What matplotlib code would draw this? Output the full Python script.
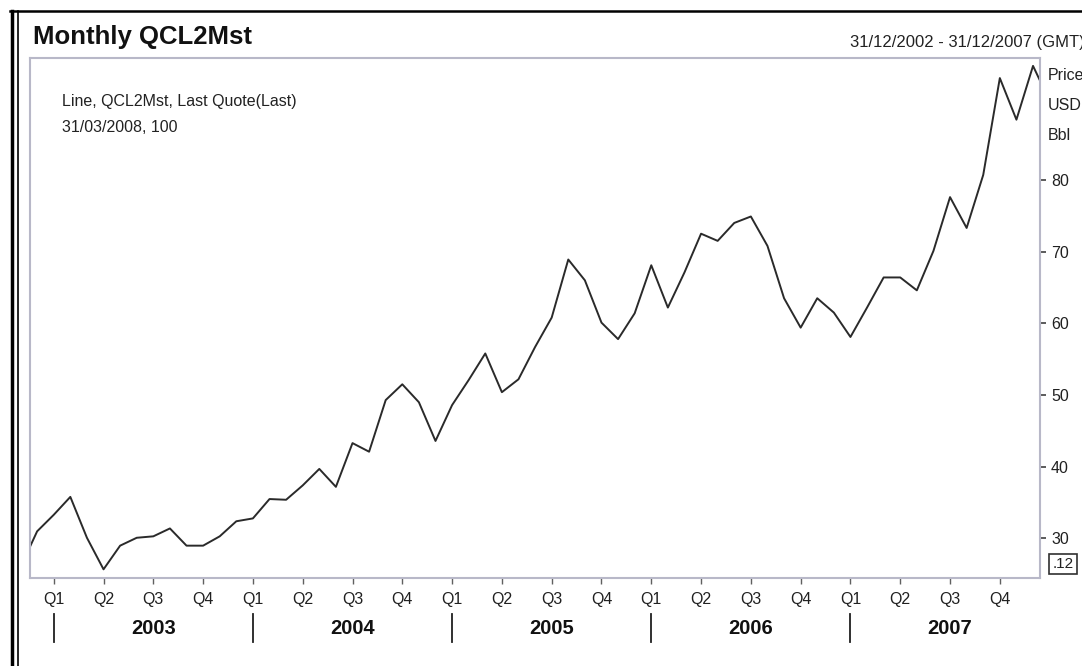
import matplotlib.pyplot as plt
from matplotlib.lines import Line2D
import matplotlib.transforms as mtransforms

plt.rcParams['font.family'] = ['Liberation Sans', 'DejaVu Sans']

# monthly closes, Nov 2002 .. Jan 2008 (month index 0 = Jan 2003)
month_idx = list(range(-2, 61))
prices = [26.0, 31.0,
          33.3, 35.8, 30.1, 25.7, 29.0, 30.1, 30.3, 31.4, 29.0, 29.0, 30.3, 32.4,
          32.8, 35.5, 35.4, 37.4, 39.7, 37.2, 43.3, 42.1, 49.3, 51.5, 49.0, 43.6,
          48.6, 52.1, 55.8, 50.4, 52.2, 56.7, 60.8, 68.9, 66.0, 60.1, 57.8, 61.4,
          68.1, 62.2, 67.1, 72.5, 71.5, 74.0, 74.9, 70.8, 63.5, 59.4, 63.5, 61.5,
          58.1, 62.2, 66.4, 66.4, 64.6, 70.1, 77.6, 73.3, 80.7, 94.2, 88.4, 95.9,
          91.0]

years = ["2003", "2004", "2005", "2006", "2007"]
quarters = ["Q1", "Q2", "Q3", "Q4"]
price_ticks = [30, 40, 50, 60, 70, 80]

W, H = 1082, 666


def fpos(x, y):
    # pixel position -> figure fraction
    return x / W, 1 - y / H


fig = plt.figure(figsize=(W / 100, H / 100), dpi=100)
ax = fig.add_axes([29.5 / W, (H - 578) / H, (1040 - 29.5) / W, 520 / H])

ax.plot(month_idx, prices, color="#2a2a2a", lw=1.4)
ax.set_xlim(-1.46, 59.42)
ax.set_ylim(24.49, 97.0)

for s in ax.spines.values():
    s.set_color("#b8b8c8")
    s.set_linewidth(1.5)

# right price axis
ax.yaxis.tick_right()
ax.set_yticks(price_ticks)
ax.tick_params(axis="y", length=4.5, width=1.2, color="#404040", pad=3.5,
               labelsize=11.5, labelcolor="#202020")

# quarter ticks
q_pos = [3 * i for i in range(len(years) * 4)]
ax.set_xticks(q_pos)
ax.set_xticklabels([quarters[i % 4] for i in range(len(q_pos))])
ax.tick_params(axis="x", length=4, width=1, color="#606060", pad=6,
               labelsize=11.5, labelcolor="#202020")

# year separators and labels
trans = mtransforms.blended_transform_factory(ax.transData, ax.transAxes)
for i, yr in enumerate(years):
    x0 = 12 * i
    ax.plot([x0, x0], [-0.069, -0.123], color="#202020", lw=1.3,
            transform=trans, clip_on=False)
    ax.text(x0 + 6, -0.097, yr, transform=trans, ha="center", va="center",
            fontsize=14.5, fontweight="bold", color="#111111")

# legend text inside chart
ax.text(0.032, 0.917, "Line, QCL2Mst, Last Quote(Last)", transform=ax.transAxes,
        fontsize=11.5, va="center", color="#222222")
ax.text(0.032, 0.867, "31/03/2008, 100", transform=ax.transAxes,
        fontsize=11.5, va="center", color="#222222")

# header
fig.text(*fpos(33, 37), "Monthly QCL2Mst", fontsize=18.5, fontweight="bold",
         va="center", ha="left", color="#111111")
fig.text(*fpos(850, 42), "31/12/2002 - 31/12/2007 (GMT)", fontsize=12,
         va="center", ha="left", color="#222222")

# unit labels on the right
for lbl, yy in [("Price", 75), ("USD", 105), ("Bbl", 136)]:
    fig.text(*fpos(1048, yy), lbl, fontsize=11.5, va="center", ha="left",
             color="#222222")

fig.text(*fpos(1063, 564), ".12", fontsize=11, va="center", ha="center",
         color="#222222",
         bbox=dict(boxstyle="square,pad=0.2", fc="white", ec="#303030", lw=1.2))

# outer frame lines
fig.add_artist(Line2D([11.5 / W, 11.5 / W], [0, 1 - 11 / H], color="black", lw=2.5))
fig.add_artist(Line2D([17.5 / W, 17.5 / W], [0, 1 - 11 / H], color="black", lw=1.2))
fig.add_artist(Line2D([10 / W, 1], [1 - 11 / H, 1 - 11 / H], color="black", lw=1.8))

fig.savefig("out.png", dpi=100)
